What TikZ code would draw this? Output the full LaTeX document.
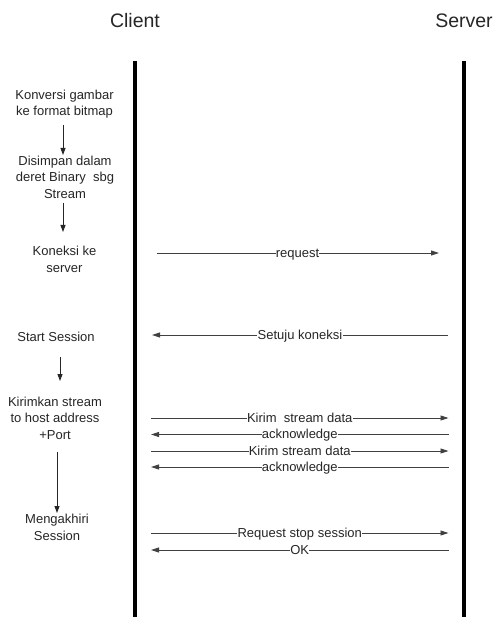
\documentclass[tikz,border=0pt]{standalone}
\usepackage{fontspec}
\setmainfont{Liberation Sans}
\usetikzlibrary{arrows.meta}
\begin{document}
\begin{tikzpicture}[x=1pt,y=-1pt,
  every node/.style={text=black!85},
  title/.style={font=\fontsize{19.5}{22}\selectfont},
  stepnote/.style={font=\fontsize{13}{16.5}\selectfont,align=center,inner sep=1pt},
  lifeline/.style={line width=3.8pt,black},
  msg/.style={line width=0.9pt,black!75,-{Triangle[length=8pt,width=5pt]}},
  lbl/.style={font=\fontsize{13}{16}\selectfont,fill=white,inner xsep=0.3pt,inner ysep=0pt,text height=8pt,text depth=0pt},
  flow/.style={line width=0.9pt,black!85,-{Triangle[length=7pt,width=5pt]}}]
\useasboundingbox[fill=white] (0,0) rectangle (493,617);
% titles
\node[title] (client) at (135,21) {Client};
\node[title] (server) at (464,21) {Server};
% lifelines
\coordinate (ctop) at (135,61);
\coordinate (cbot) at (135,617);
\coordinate (stop) at (464,61);
\coordinate (sbot) at (464,617);
\draw[lifeline] (ctop) -- (cbot);
\draw[lifeline] (stop) -- (sbot);
% left notes
\node[stepnote] (k1) at (64.5,104) {Konversi gambar\\ke format bitmap};
\node[stepnote] (k2) at (65,177) {Disimpan dalam\\deret Binary\ \ sbg\\Stream};
\node[stepnote] (k3) at (64.5,259.5) {Koneksi ke\\server};
\node[stepnote] (k4) at (56,337) {Start Session};
\node[stepnote] (k5) at (55,418) {Kirimkan stream\\to host address\\+Port};
\node[stepnote] (k6) at (57,527.5) {Mengakhiri\\Session};
% left arrows
\coordinate (a1s) at (63,125); \coordinate (a1e) at (63,155);
\coordinate (a2s) at (63,203); \coordinate (a2e) at (63,232);
\coordinate (a3s) at (60,357); \coordinate (a3e) at (60,381);
\coordinate (a4s) at (57,452); \coordinate (a4e) at (57,513);
\draw[flow] (a1s) -- (a1e);
\draw[flow] (a2s) -- (a2e);
\draw[flow] (a3s) -- (a3e);
\draw[flow] (a4s) -- (a4e);
% messages
\coordinate (r1) at (157,253); \coordinate (r2) at (439,253);
\coordinate (s1) at (448,335); \coordinate (s2) at (152,335);
\coordinate (L) at (151,0); \coordinate (R) at (448.5,0);
\coordinate (m1) at (0,418); \coordinate (m2) at (0,434.5);
\coordinate (m3) at (0,451); \coordinate (m4) at (0,467);
\coordinate (m5) at (0,533); \coordinate (m6) at (0,550);
\draw[msg] (r1) -- node[lbl,xshift=-0.5pt] {request} (r2);
\draw[msg] (s1) -- node[lbl] {Setuju koneksi} (s2);
\draw[msg] (L|-m1) -- node[lbl] {Kirim\ \ stream data} (R|-m1);
\draw[msg] (R|-m2) -- node[lbl] {acknowledge} (L|-m2);
\draw[msg] (L|-m3) -- node[lbl] {Kirim stream data} (R|-m3);
\draw[msg] (R|-m4) -- node[lbl] {acknowledge} (L|-m4);
\draw[msg] (L|-m5) -- node[lbl] {Request stop session} (R|-m5);
\draw[msg] (R|-m6) -- node[lbl] {OK} (L|-m6);
\end{tikzpicture}
\end{document}
